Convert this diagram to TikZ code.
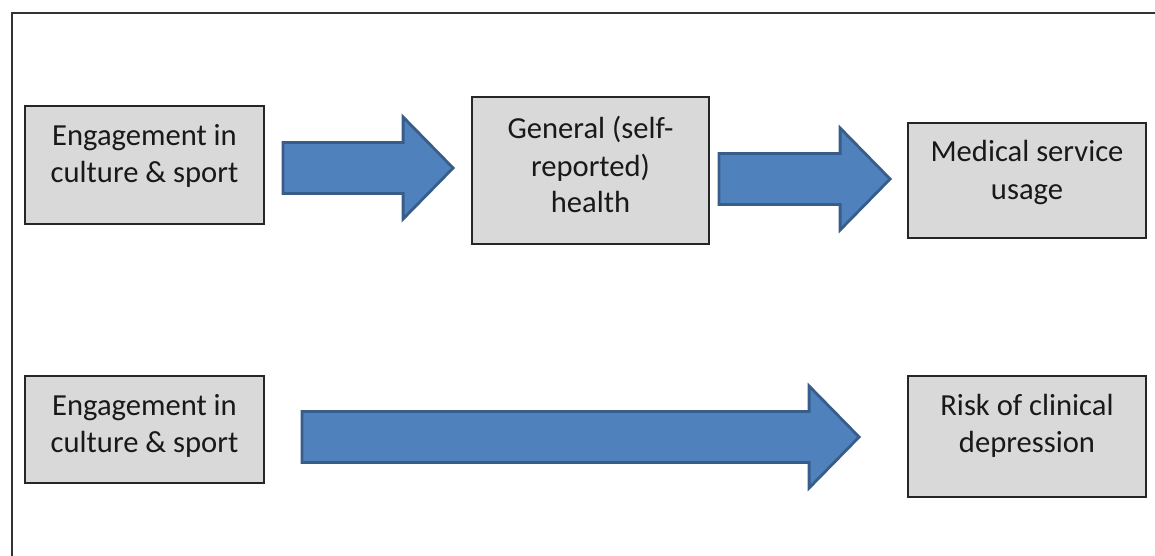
\documentclass[tikz,border=0pt]{standalone}
\usepackage{fontspec}
\setmainfont{Carlito}
\usetikzlibrary{calc}
\definecolor{boxfill}{HTML}{D9D9D9}
\definecolor{boxline}{HTML}{262626}
\definecolor{arrfill}{HTML}{4F81BD}
\definecolor{arrline}{HTML}{385D8A}
\newcommand\fatarrow[5]{%
  \draw[fatarrowstyle] let \p1=(#1.east), \p2=(#2.west), \n1={\x1+#3}, \n2={\x2-#4} in
    (\n1,{#5-25.5}) -- ({\n2-50},{#5-25.5}) -- ({\n2-50},{#5-51}) -- (\n2,#5)
    -- ({\n2-50},{#5+51}) -- ({\n2-50},{#5+25.5}) -- (\n1,{#5+25.5}) -- cycle;}
\begin{document}
\begin{tikzpicture}[x=1pt,y=-1pt,
  box/.style={draw=boxline, fill=boxfill, line width=1.8pt, inner sep=0pt,
    font=\fontsize{30.6pt}{37pt}\selectfont, text=black!90},
  fatarrowstyle/.style={fill=arrfill, draw=arrline, line width=2.8pt, line join=miter},
  frame/.style={draw=black!80, line width=1.6pt}]
\useasboundingbox (0,0) rectangle (1155,556);
\clip (0,0) rectangle (1155,556);
\draw[frame] (12,570) -- (12,13) -- (1170,13);

\node[box] (b1) at (144.5,165) {\parbox[c][118pt][t]{239pt}{\centering\rule{0pt}{39pt}Engagement in\\culture \& sport}};
\node[box] (b2) at (590.5,170.5) {\parbox[c][147pt][t]{237pt}{\centering\rule{0pt}{42pt}General (self-\\reported)\\health}};
\node[box] (b3) at (1027,180.5) {\parbox[c][115pt][t]{238pt}{\centering\rule{0pt}{39pt}Medical service\\usage}};
\node[box] (b4) at (144.5,429.5) {\parbox[c][107pt][t]{239pt}{\centering\rule{0pt}{39pt}Engagement in\\culture \& sport}};
\node[box] (b5) at (1027,436.5) {\parbox[c][121pt][t]{238pt}{\centering\rule{0pt}{39pt}Risk of clinical\\depression}};

\fatarrow{b1}{b2}{18}{18}{168}
\fatarrow{b2}{b3}{9}{17}{179}
\fatarrow{b4}{b5}{37}{48}{437}
\end{tikzpicture}
\end{document}
